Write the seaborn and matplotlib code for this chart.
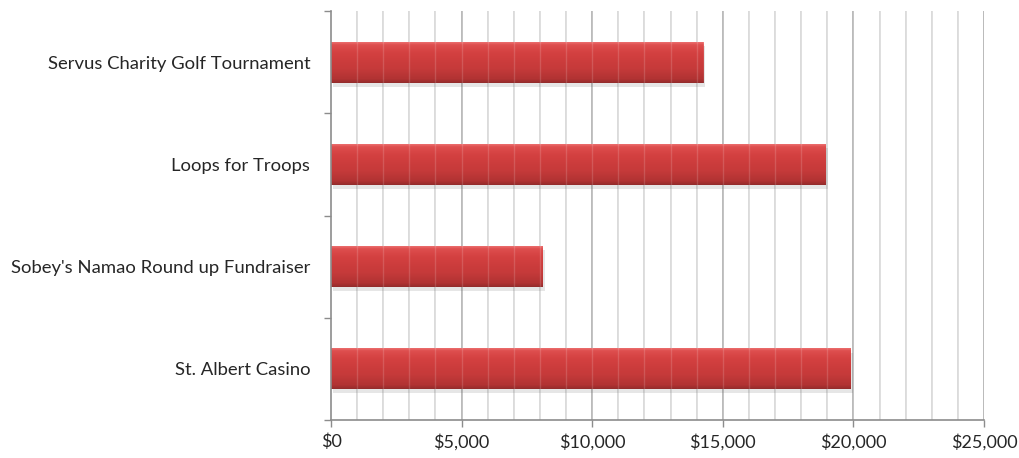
import numpy as np
import pandas as pd
import matplotlib
matplotlib.use("Agg")
import matplotlib.pyplot as plt
import matplotlib.patheffects as pe
from matplotlib.colors import LinearSegmentedColormap
from matplotlib.ticker import FixedLocator, FuncFormatter
import seaborn as sns

categories = ["Servus Charity Golf Tournament", "Loops for Troops",
              "Sobey's Namao Round up Fundraiser", "St. Albert Casino"]
amounts = [14250, 18950, 8100, 19900]
x_ticks = [0, 5000, 10000, 15000, 20000, 25000]

sns.set_theme(style="white")
plt.rcParams['font.family'] = ['Lato', 'DejaVu Sans']

df = pd.DataFrame({"event": categories, "amount": amounts})

fig = plt.figure(figsize=(10.19, 4.58), dpi=100)
ax = fig.add_axes([331/1019, 1 - 420/458, (984 - 331)/1019, (420 - 11)/458])

sns.barplot(data=df, x="amount", y="event", orient="h", color="#C83A3A",
            width=0.4, ax=ax, zorder=3, edgecolor="none", saturation=1)

cmap = LinearSegmentedColormap.from_list(
    "gloss", [(0.0, "#F07474"), (0.07, "#E05050"), (0.25, "#D64242"),
              (0.65, "#C53A3A"), (0.9, "#B03333"), (1.0, "#8E2A2A")])
grad = np.linspace(0, 1, 256).reshape(-1, 1)
for p in ax.patches:
    p.set_path_effects([pe.SimplePatchShadow(offset=(1.5, -3), alpha=0.13,
                                             shadow_rgbFace="#444444"), pe.Normal()])
    x0, y0 = p.get_x(), p.get_y()
    w, h = p.get_width(), p.get_height()
    im = ax.imshow(grad, extent=(x0, x0 + w, y0 + h, y0), aspect="auto",
                   cmap=cmap, zorder=3.5, alpha=0.92, interpolation="bilinear")
    im.set_clip_path(p)

ax.set_xlim(0, 25000)
ax.set_ylim(3.5, -0.5)

for v in range(1000, 25001, 1000):
    major = v % 5000 == 0
    ax.axvline(v, color="#A6A6A6" if major else "#D0D0D0", lw=1.1, zorder=2)
    ax.axvline(v, color="#FFFFFF", lw=1.0, alpha=0.15, zorder=4)

ax.xaxis.set_major_locator(FixedLocator(x_ticks))
ax.xaxis.set_major_formatter(FuncFormatter(lambda v, p: f"${v:,.0f}"))
ax.yaxis.set_minor_locator(FixedLocator([-0.5, 0.5, 1.5, 2.5, 3.5]))

ax.tick_params(axis="x", which="major", length=5, width=1, color="#8C8C8C",
               labelsize=13, labelcolor="#262626", pad=5, direction="out", bottom=True)
ax.tick_params(axis="y", which="major", length=0, labelsize=13.3, labelcolor="#262626", pad=15)
ax.tick_params(axis="y", which="minor", length=5, width=1, color="#8C8C8C",
               left=True, direction="out")

for s in ["top", "right"]:
    ax.spines[s].set_visible(False)
for s in ["left", "bottom"]:
    ax.spines[s].set_visible(True)
    ax.spines[s].set_color("#8C8C8C")
    ax.spines[s].set_linewidth(1.2)
    ax.spines[s].set_zorder(5)

ax.set_xlabel("")
ax.set_ylabel("")

fig.savefig("out.png", dpi=100)
